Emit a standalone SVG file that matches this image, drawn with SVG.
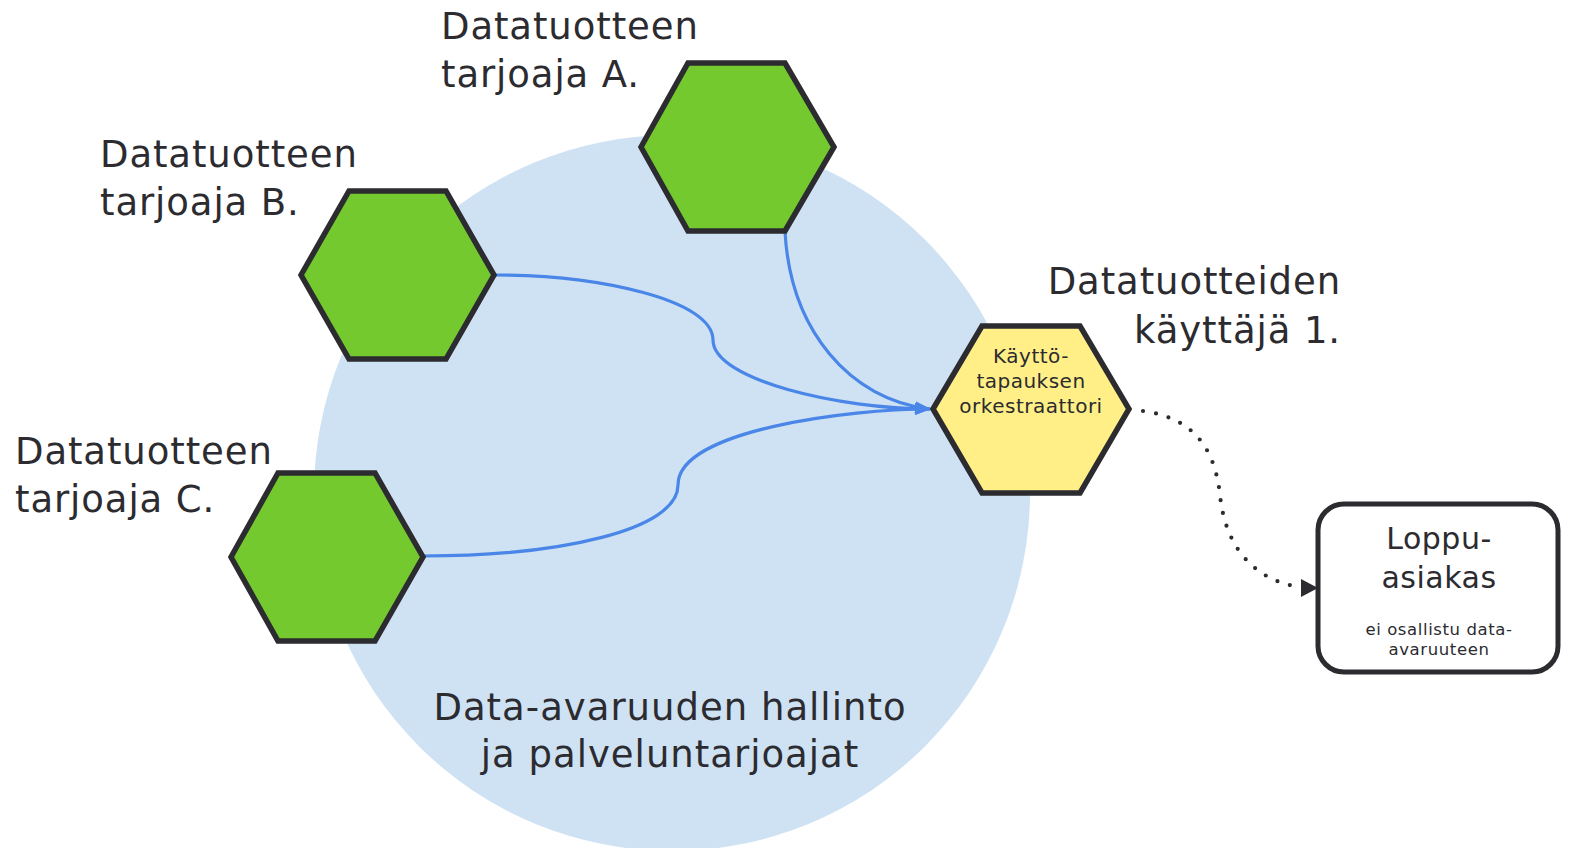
<svg xmlns="http://www.w3.org/2000/svg" width="1570" height="848" viewBox="0 0 1570 848">
<defs>
<style>
.t{font-family:"DejaVu Sans",Verdana,sans-serif;fill:#2b2b30}
.big{font-size:37px;letter-spacing:0.9px}
.hex{stroke:#2b2b30;stroke-width:5.5;stroke-linejoin:miter}
.green{fill:#74c92f}
.yellow{fill:#ffef86}
.flow{fill:none;stroke:#4a86e8;stroke-width:3.2}
.dot{fill:none;stroke:#2b2b30;stroke-width:4.2;stroke-linecap:round;stroke-dasharray:0 13}
</style>
<marker id="ab" viewBox="0 0 16 12" refX="15" refY="6" markerWidth="16" markerHeight="12" markerUnits="userSpaceOnUse" orient="auto">
<path d="M0,0 L16,6 L0,12 Z" fill="#4a86e8"/>
</marker>
</defs>
<rect width="1570" height="848" fill="#ffffff"/>
<g id="space">
<circle cx="672" cy="493" r="358" fill="#cfe2f3"/>
<text class="t" font-size="37" letter-spacing="1" text-anchor="middle"><tspan x="670" y="720">Data-avaruuden hallinto</tspan><tspan x="670" y="767">ja palveluntarjoajat</tspan></text>
</g>
<g id="connectors">
<path class="flow" d="M785,231 C790,330 850,400 930,409" marker-end="url(#ab)"/>
<path class="flow" d="M494,275 C600,275 713,300 713,340 C713,380 840,409 930,409" marker-end="url(#ab)"/>
<path class="flow" d="M423,556 C560,556 678,530 678,485 C678,430 850,409 930,409" marker-end="url(#ab)"/>
<path class="dot" d="M1143,411 C1195,418 1215,450 1220,495 C1226,555 1262,582 1300,587"/>
<path d="M1301,579 L1318,588 L1301,597 Z" fill="#2b2b30"/>
</g>
<g id="providerA">
<polygon class="hex green" points="641,147 688,63 785,63 834,147 785,231 688,231"/>
<text class="t big"><tspan x="441" y="39">Datatuotteen</tspan><tspan x="441" y="87">tarjoaja A.</tspan></text>
</g>
<g id="providerB">
<polygon class="hex green" points="301,275 349,191 446,191 494,275 446,359 349,359"/>
<text class="t big"><tspan x="100" y="167">Datatuotteen</tspan><tspan x="100" y="215">tarjoaja B.</tspan></text>
</g>
<g id="providerC">
<polygon class="hex green" points="231,557 278,473 375,473 423,557 375,641 278,641"/>
<text class="t big"><tspan x="15" y="464">Datatuotteen</tspan><tspan x="15" y="512">tarjoaja C.</tspan></text>
</g>
<g id="consumer">
<polygon class="hex yellow" points="933,409 982,326 1080,326 1129,409 1080,493 982,493"/>
<text class="t" font-size="20" letter-spacing="0.5" text-anchor="middle"><tspan x="1031" y="363">Käyttö-</tspan><tspan x="1031" y="388">tapauksen</tspan><tspan x="1031" y="413">orkestraattori</tspan></text>
<text class="t big" text-anchor="end"><tspan x="1341" y="294">Datatuotteiden</tspan><tspan x="1341" y="343">käyttäjä 1.</tspan></text>
</g>
<g id="endcustomer">
<rect x="1318" y="504" width="240" height="168" rx="26" fill="#ffffff" stroke="#2b2b30" stroke-width="5"/>
<text class="t" font-size="30" letter-spacing="0.5" text-anchor="middle"><tspan x="1439" y="549">Loppu-</tspan><tspan x="1439" y="588">asiakas</tspan></text>
<text class="t" font-size="16.5" letter-spacing="0.6" text-anchor="middle"><tspan x="1439" y="635">ei osallistu data-</tspan><tspan x="1439" y="655">avaruuteen</tspan></text>
</g>
</svg>
